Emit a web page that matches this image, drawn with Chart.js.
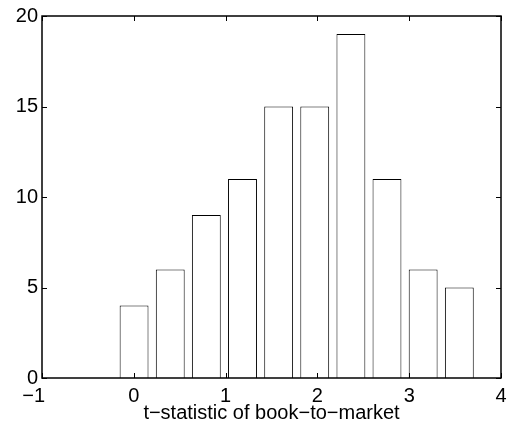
<!DOCTYPE html>
<html>
<head>
<meta charset="utf-8">
<script src="https://cdn.jsdelivr.net/npm/chart.js@4"></script>
<style>
  html, body { margin: 0; padding: 0; background: #fff; }
  #wrap { width: 515px; height: 428px; }
</style>
</head>
<body>
<div id="wrap"><canvas id="c" width="515" height="428"></canvas></div>
<script>
// histogram bins
const binCenters = [0.003, 0.397, 0.790, 1.184, 1.578, 1.971, 2.365, 2.758, 3.152, 3.546]
const counts = [4, 6, 9, 11, 15, 15, 19, 11, 6, 5]
const xTicks = [-1, 0, 1, 2, 3, 4]
const yTicks = [0, 5, 10, 15, 20]
const xTitle = 't\u2212statistic of book\u2212to\u2212market'

const FONT = 'Liberation Sans, Arial, Helvetica, sans-serif'

// matlab style box with inward ticks on all four sides
const boxTicks = {
    id: 'boxTicks',
    afterDraw(chart) {
        const { ctx, chartArea: a, scales } = chart
        const len = 5
        ctx.save()
        ctx.strokeStyle = '#000'
        ctx.lineWidth = 1
        ctx.beginPath()
        xTicks.forEach(v => {
            const px = Math.round(scales.x.getPixelForValue(v)) + 0.5
            ctx.moveTo(px, a.bottom); ctx.lineTo(px, a.bottom - len)
            ctx.moveTo(px, a.top); ctx.lineTo(px, a.top + len)
        })
        yTicks.forEach(v => {
            const py = Math.round(scales.y.getPixelForValue(v)) + 0.5
            ctx.moveTo(a.left, py); ctx.lineTo(a.left + len, py)
            ctx.moveTo(a.right, py); ctx.lineTo(a.right - len, py)
        })
        ctx.stroke()
        ctx.lineWidth = 1.5
        ctx.strokeRect(Math.round(a.left), Math.round(a.top), Math.round(a.right - a.left), Math.round(a.bottom - a.top))
        ctx.restore()
    }
}

new Chart(document.getElementById('c'), {
    type: 'bar',
    data: {
        datasets: [{
            data: binCenters.map((x, i) => ({ x: x, y: counts[i] })),
            backgroundColor: '#fff',
            borderColor: '#000',
            borderWidth: 1,
            barPercentage: 0.8,
            categoryPercentage: 1.0
        }]
    },
    options: {
        responsive: false,
        animation: false,
        layout: { padding: { left: 0, right: 14, top: 16, bottom: 0 } },
        plugins: { legend: { display: false }, tooltip: { enabled: false } },
        scales: {
            x: {
                type: 'linear',
                min: -1,
                max: 4,
                offset: false,
                afterBuildTicks: s => { s.ticks = xTicks.map(v => ({ value: v })) },
                afterFit: s => { s.height = 50 },
                grid: { display: false, drawTicks: false },
                border: { display: false },
                ticks: {
                    padding: 6,
                    color: '#000',
                    font: { family: FONT, size: 20 },
                    maxRotation: 0,
                    callback: v => v < 0 ? '\u2212' + Math.abs(v) + '   ' : String(v)
                },
                title: {
                    display: true,
                    text: xTitle,
                    color: '#000',
                    font: { family: FONT, size: 20 },
                    padding: { top: 0, bottom: 3 }
                }
            },
            y: {
                min: 0,
                max: 20,
                afterBuildTicks: s => { s.ticks = yTicks.map(v => ({ value: v })) },
                afterFit: s => { s.width = 42 },
                grid: { display: false, drawTicks: false },
                border: { display: false },
                ticks: {
                    padding: 4,
                    color: '#000',
                    font: { family: FONT, size: 20 }
                }
            }
        }
    },
    plugins: [boxTicks]
})
</script>
</body>
</html>
